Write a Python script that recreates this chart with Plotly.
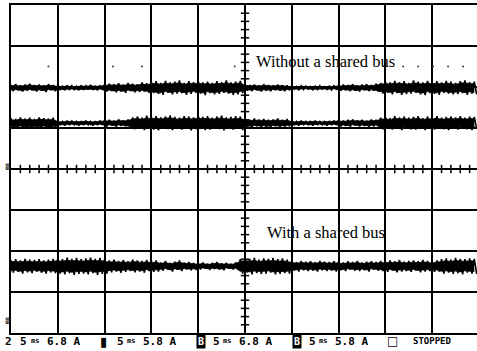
import plotly.graph_objects as go

# ---- data (time in ms, amplitude in screen divisions) ----
SAMPLE_STEP_MS = 0.5
N_SAMPLES = 100
TIME_MS = [i * SAMPLE_STEP_MS for i in range(N_SAMPLES)]

# trace baselines (divisions from screen centre)
BASE_A = 1.98    # "Without a shared bus", upper trace
BASE_B = 1.12    # "Without a shared bus", lower trace
BASE_C = -2.37   # "With a shared bus"

# noise peaks (hundredths of a division) above / below each baseline
A_UP = [7, 9, 6, 8, 10, 7, 8, 6, 9, 7,
        5, 4, 6, 5, 4, 6, 5, 7, 5, 6,
        8, 10, 9, 11, 8, 12, 10, 9, 13, 11,
        14, 16, 12, 17, 13, 15, 18, 12, 16, 14, 17, 13, 15, 12, 16, 14, 18, 13, 15, 17,
        9, 7, 8, 6, 9, 7, 6, 8, 7, 6,
        4, 3, 5, 4, 3, 4, 5, 3, 4, 5,
        6, 8, 7, 9, 6, 8, 9, 7, 10,
        12, 15, 13, 17, 14, 16, 12, 18, 15, 13, 17, 14, 16, 13, 17, 15, 12, 16, 18, 14, 15]
A_DN = [8, 6, 9, 7, 6, 9, 7, 10, 6, 8,
        4, 6, 5, 4, 6, 5, 4, 5, 6, 4,
        9, 8, 11, 9, 12, 8, 11, 10, 9, 12,
        13, 15, 17, 12, 16, 14, 13, 17, 15, 12, 14, 18, 13, 16, 15, 12, 14, 17, 16, 13,
        7, 8, 6, 9, 7, 8, 6, 7, 8, 6,
        3, 5, 4, 3, 5, 4, 3, 4, 5, 3,
        7, 6, 8, 7, 9, 6, 8, 7, 9,
        14, 12, 16, 13, 17, 15, 14, 12, 16, 18, 13, 15, 17, 12, 14, 16, 15, 13, 17, 14, 16]
B_UP = [12, 10, 14, 11, 13, 10, 14, 12, 11, 13,
        5, 4, 6, 5, 4, 5, 6, 4, 5, 6,
        7, 8, 6, 9, 7, 9,
        14, 16, 13, 18, 15, 17, 14, 16, 19, 15, 13, 17, 16, 14, 18, 15, 17, 13, 16, 18, 14, 15, 17, 16,
        10, 8, 11, 9, 10, 8, 9, 11, 8, 10,
        5, 4, 6, 4, 5, 6, 4, 5, 4, 6,
        7, 6, 8, 9, 7, 8, 6, 9, 8,
        13, 15, 12, 17, 14, 16, 13, 15, 17, 12, 16, 14, 17, 13, 15, 16, 14, 17, 13, 16, 15]
B_DN = [11, 13, 10, 14, 12, 11, 13, 10, 14, 12,
        4, 6, 5, 4, 6, 5, 4, 6, 5, 4,
        8, 6, 9, 7, 8, 10,
        15, 13, 17, 14, 16, 18, 13, 15, 17, 14, 16, 13, 18, 15, 14, 17, 16, 13, 15, 18, 14, 16, 13, 17,
        9, 11, 8, 10, 9, 11, 8, 10, 9, 8,
        4, 6, 5, 4, 6, 5, 4, 6, 5, 4,
        8, 7, 9, 6, 8, 7, 9, 8, 7,
        15, 13, 16, 14, 17, 12, 15, 16, 13, 17, 14, 16, 13, 15, 17, 14, 16, 12, 15, 17, 14]
C_UP = [15, 17, 14, 18, 16, 15, 17, 14, 16, 18,
        19, 17, 21, 18, 20, 17, 19, 21, 18, 20, 17,
        14, 16, 13, 15, 12, 16, 14, 13, 15, 12, 14,
        9, 13, 8, 11, 14, 9, 10, 8,
        7, 9, 6, 8, 10, 7, 8, 6, 9,
        17, 19, 18, 20, 16, 19, 18, 20, 17, 19, 16,
        12, 10, 13, 11, 12, 10, 13, 11, 10, 12,
        11, 9, 12, 10, 13, 9, 11, 12, 10,
        13, 11, 14, 12, 15, 11, 13, 14, 12, 15, 13, 11, 14,
        17, 19, 16, 20, 18, 17, 19, 18]
C_DN = [16, 14, 18, 15, 17, 14, 16, 18, 15, 17,
        18, 20, 17, 21, 19, 18, 20, 17, 21, 19, 18,
        15, 13, 16, 14, 12, 15, 13, 16, 12, 14, 13,
        11, 8, 13, 9, 12, 8, 10, 9,
        8, 6, 9, 7, 8, 10, 6, 8, 7,
        18, 16, 20, 17, 19, 18, 16, 20, 19, 17, 18,
        11, 13, 10, 12, 11, 13, 10, 12, 11, 13,
        10, 12, 9, 11, 12, 10, 13, 9, 11,
        12, 14, 11, 15, 13, 12, 14, 11, 15, 13, 12, 14, 13,
        18, 16, 19, 17, 20, 16, 18, 19]

LABEL_TOP = "Without a shared bus"
LABEL_BOTTOM = "With a shared bus"
LABEL_TOP_POS = (25.96, 2.61)
LABEL_BOTTOM_POS = (27.14, -1.54)

DOT_TIMES = [4.0, 10.9, 14.0, 23.9, 41.9, 43.5, 45.1, 46.7, 48.3]
DOT_LEVEL = 2.5

STATUS_ITEMS = [  # (pixel x, text, font size, boxed)
    (4, "2", 11, False), (19, "5", 11, False), (30, "ms", 7, False), (46, "6.8 A", 11, False),
    (99, "▮", 13, False), (116, "5", 11, False), (126, "ms", 7, False), (142, "5.8 A", 11, False),
    (196, "B", 10, True), (212, "5", 11, False), (222, "ms", 7, False), (238, "6.8 A", 11, False),
    (292, "B", 10, True), (308, "5", 11, False), (318, "ms", 7, False), (334, "5.8 A", 11, False),
    (386, "□", 12, False), (412, "STOPPED", 9, False),
]

# ---- figure geometry ----
W, H = 477, 351
ML, MT, MB, MR = 11, 5, 18, 0
DIV_X_PX = 46.8
X_MAX = (W - ML - MR) / DIV_X_PX * 5.0
HALF_STEP = SAMPLE_STEP_MS / 2
CORE_SHARE = 0.7

fig = go.Figure()

def noisy_trace(base, up, dn):
    # solid core of the noise band
    fig.add_trace(go.Scatter(x=TIME_MS, y=[base + CORE_SHARE * u / 100 for u in up], mode="lines",
                             line=dict(color="black", width=0.8), hoverinfo="skip", showlegend=False))
    fig.add_trace(go.Scatter(x=TIME_MS, y=[base - CORE_SHARE * d / 100 for d in dn], mode="lines",
                             line=dict(color="black", width=0.8), fill="tonexty", fillcolor="black",
                             hoverinfo="skip", showlegend=False))
    # spikes
    xs, ys = [], []
    for t, u, d in zip(TIME_MS, up, dn):
        xs += [t, t + HALF_STEP]
        ys += [base + u / 100, base - d / 100]
    fig.add_trace(go.Scatter(x=xs, y=ys, mode="lines",
                             line=dict(color="black", width=1.6),
                             hoverinfo="skip", showlegend=False))

noisy_trace(BASE_A, A_UP, A_DN)
noisy_trace(BASE_B, B_UP, B_DN)
noisy_trace(BASE_C, C_UP, C_DN)

# graticule centre-line ticks
vt = [k * 0.2 for k in range(-20, 21) if k % 5 != 0]
fig.add_trace(go.Scatter(x=[25] * len(vt), y=vt, mode="markers",
                         marker=dict(symbol="line-ew", size=6, line=dict(color="black", width=1.5)),
                         hoverinfo="skip", showlegend=False))
ht = [k * 1.0 for k in range(0, 50) if k % 5 != 0]
fig.add_trace(go.Scatter(x=ht, y=[0] * len(ht), mode="markers",
                         marker=dict(symbol="line-ns", size=6, line=dict(color="black", width=1.5)),
                         hoverinfo="skip", showlegend=False))
fig.add_trace(go.Scatter(x=DOT_TIMES, y=[DOT_LEVEL] * len(DOT_TIMES), mode="markers",
                         marker=dict(size=2, color="#444"), hoverinfo="skip", showlegend=False))

for (lx, ly), label in ((LABEL_TOP_POS, LABEL_TOP), (LABEL_BOTTOM_POS, LABEL_BOTTOM)):
    fig.add_annotation(x=lx, y=ly, text=label, showarrow=False,
                       xanchor="left", yanchor="middle",
                       font=dict(family="Liberation Serif", size=16.5, color="black"))

pw = W - ML - MR
ph = H - MT - MB
def px2paper(px, py):
    return (px - ML) / pw, (H - MB - py) / ph

for px, txt, size, boxed in STATUS_ITEMS:
    xp, yp = px2paper(px, 341)
    is_glyph = txt in ("▮", "□")
    fig.add_annotation(x=xp, y=yp, xref="paper", yref="paper", text="<b>%s</b>" % txt,
                       showarrow=False, xanchor="left", yanchor="middle",
                       font=dict(family="DejaVu Sans" if is_glyph else "DejaVu Sans Mono", size=size,
                                 color="white" if boxed else "black"),
                       bgcolor="black" if boxed else None, borderpad=1 if boxed else 0)

for py in (166, 320):
    xp, yp = px2paper(6, py)
    fig.add_annotation(x=xp, y=yp, xref="paper", yref="paper", text="<b>ms</b>",
                       showarrow=False, textangle=-90, xanchor="center", yanchor="middle",
                       font=dict(family="DejaVu Sans Mono", size=6, color="black"))

fig.update_xaxes(range=[0, X_MAX], dtick=5, tick0=0, showgrid=True, gridcolor="black",
                 gridwidth=2, zeroline=False, showticklabels=False, ticks="",
                 showline=True, linecolor="black", linewidth=2, mirror=True)
fig.update_yaxes(range=[-4, 4], dtick=1, tick0=0, showgrid=True, gridcolor="black",
                 gridwidth=1.6, zeroline=False, showticklabels=False, ticks="",
                 showline=True, linecolor="black", linewidth=2, mirror=False)
fig.update_layout(width=W, height=H, margin=dict(l=ML, r=MR, t=MT, b=MB, pad=0),
                  paper_bgcolor="white", plot_bgcolor="white")

fig.write_html("out.html", config={"displayModeBar": False},
               post_script="document.body.style.margin='0';document.body.style.padding='0';")
